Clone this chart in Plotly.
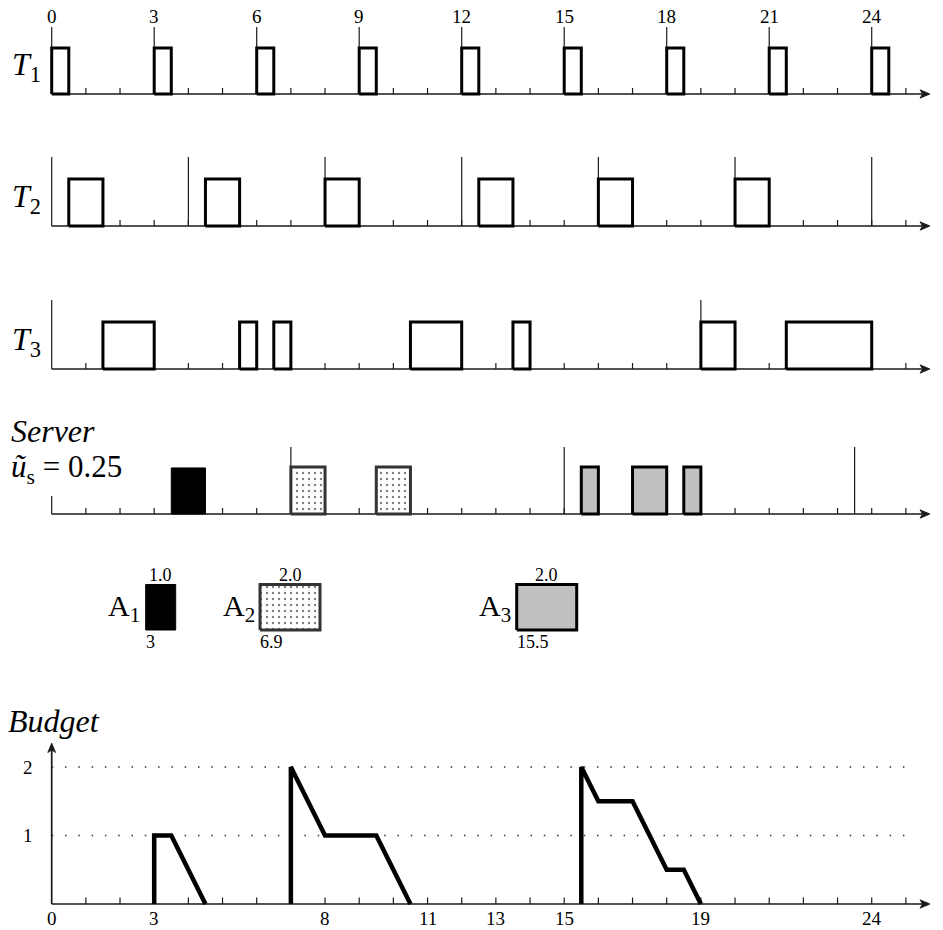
import plotly.graph_objects as go

# ------------------------------------------------------------------ data
T1_RELEASES = [0, 3, 6, 9, 12, 15, 18, 21, 24]
T1_RUN_START = [0, 3, 6, 9, 12, 15, 18, 21, 24]
T1_RUN_END = [0.5, 3.5, 6.5, 9.5, 12.5, 15.5, 18.5, 21.5, 24.5]

T2_RELEASES = [0, 4, 8, 12, 16, 20, 24]
T2_RUN_START = [0.5, 4.5, 8, 12.5, 16, 20]
T2_RUN_END = [1.5, 5.5, 9, 13.5, 17, 21]

T3_RELEASES = [0, 19]
T3_RUN_START = [1.5, 5.5, 6.5, 10.5, 13.5, 19, 21.5]
T3_RUN_END = [3, 6, 7, 12, 14, 20, 24]

SERVER_REPLENISH = [7, 15, 23.5]
SERVER_TICK_LABELS = [0, 7, 15, 23.5]
SERVER_UTIL = 0.25

A1_RUN_START = [3.5]
A1_RUN_END = [4.5]
A2_RUN_START = [7, 9.5]
A2_RUN_END = [8, 10.5]
A3_RUN_START = [15.5, 17, 18.5]
A3_RUN_END = [16, 18, 19]

APERIODIC_IDS = [1, 2, 3]
APERIODIC_ARRIVALS = [3, 6.9, 15.5]
APERIODIC_EXEC = [1.0, 2.0, 2.0]

BUDGET_TIME = [3, 3, 3.5, 4.5, None, 7, 7, 8, 9.5, 10.5, None,
               15.5, 15.5, 16, 17, 18, 18.5, 19]
BUDGET_VALUE = [0, 1, 1, 0, None, 0, 2, 1, 1, 0, None,
                0, 2, 1.5, 1.5, 0.5, 0.5, 0]
BUDGET_TICK_LABELS = [0, 3, 8, 11, 13, 15, 19, 24]
BUDGET_LEVELS = [1, 2]

TIME_TICKS = list(range(1, 26))

# ------------------------------------------------------------------ layout constants
OFF = 0                                # page margin removed by post_script
W, H = 943 - OFF, 930 - OFF
X0_PX, X_UNIT = 51.7, 34.167          # screen pixel of t=0, pixels per time unit
FONT = "Liberation Serif, Times New Roman, Times, serif"
AXIS_C = "#1a1a1a"

# row geometry in screen pixels: baseline, pixels per unit, domain top/bottom
ROWS = {
    "t1": dict(ax="y", base=94, unit=46, top=12, bottom=112),
    "t2": dict(ax="y2", base=226, unit=47, top=140, bottom=242),
    "t3": dict(ax="y3", base=369, unit=47, top=285, bottom=385),
    "srv": dict(ax="y4", base=514, unit=47, top=440, bottom=528),
    "leg": dict(ax="y5", base=630, unit=45.5, top=560, bottom=650),
    "bud": dict(ax="y6", base=904, unit=68.5, top=730, bottom=920),
}
LEG_BOX_LEFT = [2.751, 6.097, 13.61]   # drawing positions of the A-boxes
LEG_SCALE = 0.878                      # time units per execution unit in legend

fig = go.Figure()


def yv(row, py):
    r = ROWS[row]
    return (r["base"] - py) / r["unit"]


def tx(px):
    return (px - X0_PX) / X_UNIT


def lines(xs, ys, row, width=1.0, color=AXIS_C, dash=None):
    fig.add_trace(go.Scatter(x=xs, y=ys, mode="lines", xaxis="x",
                             yaxis=ROWS[row]["ax"],
                             line=dict(width=width, color=color, dash=dash),
                             hoverinfo="skip", showlegend=False))


def vsegs(ts, y0, y1):
    xs, ys = [], []
    for t in ts:
        xs += [t, t, None]
        ys += [y0, y1, None]
    return xs, ys


def rects(starts, ends, h=1.0):
    xs, ys = [], []
    for s, e in zip(starts, ends):
        xs += [s, e, e, s, s, None]
        ys += [0, 0, h, h, 0, None]
    return xs, ys


def boxes(starts, ends, row, fill="white", line_c="black", lw=3, pattern=None, h=1.0):
    xs, ys = rects(starts, ends, h)
    kw = {}
    if pattern:
        kw["fillpattern"] = pattern
    fig.add_trace(go.Scatter(x=xs, y=ys, mode="lines", fill="toself",
                             fillcolor=fill, xaxis="x", yaxis=ROWS[row]["ax"],
                             line=dict(width=lw, color=line_c),
                             hoverinfo="skip", showlegend=False, **kw))


def h_axis(row):
    unit = ROWS[row]["unit"]
    tip = tx(930)
    back = tx(920)
    notch = tx(922.5)
    half = 4.2 / unit
    lines([0, notch], [0, 0], row, 1.7)
    fig.add_trace(go.Scatter(x=[tip, back, notch, back, tip],
                             y=[0, half, 0, -half, 0], mode="lines",
                             fill="toself", fillcolor=AXIS_C,
                             line=dict(width=0.8, color=AXIS_C),
                             xaxis="x", yaxis=ROWS[row]["ax"],
                             hoverinfo="skip", showlegend=False))


def ticks(row, px=6):
    xs, ys = vsegs(TIME_TICKS, 0, px / ROWS[row]["unit"])
    lines(xs, ys, row, 1.2)


def text(x, y, s, size, xref="paper", yref="paper", xa="center", ya="middle"):
    fig.add_annotation(x=x, y=y, xref=xref, yref=yref, text=s, showarrow=False,
                       xanchor=xa, yanchor=ya,
                       font=dict(family=FONT, size=size, color="black"))


# ------------------------------------------------------------------ T1
ticks("t1")
xs, ys = vsegs(T1_RELEASES, 0, yv("t1", 27))
lines(xs, ys, "t1", 1.2)
h_axis("t1")
boxes(T1_RUN_START, T1_RUN_END, "t1")
for r in T1_RELEASES:
    text(r, yv("t1", 16), f"{r}", 19, xref="x", yref="y")

# ------------------------------------------------------------------ T2
ticks("t2")
xs, ys = vsegs(T2_RELEASES, 0, yv("t2", 157))
lines(xs, ys, "t2", 1.2)
h_axis("t2")
boxes(T2_RUN_START, T2_RUN_END, "t2")

# ------------------------------------------------------------------ T3
ticks("t3")
xs, ys = vsegs(T3_RELEASES, 0, yv("t3", 300))
lines(xs, ys, "t3", 1.2)
h_axis("t3")
boxes(T3_RUN_START, T3_RUN_END, "t3")

# ------------------------------------------------------------------ Server
ticks("srv")
xs, ys = vsegs(SERVER_REPLENISH, 0, yv("srv", 447))
lines(xs, ys, "srv", 1.2)
xs, ys = vsegs([0], 0, yv("srv", 496))
lines(xs, ys, "srv", 1.2)
h_axis("srv")
DOTS = dict(shape=".", bgcolor="white", fgcolor="black", size=6, solidity=0.12)
boxes(A1_RUN_START, A1_RUN_END, "srv", fill="black", line_c="black", lw=1, h=0.98)
boxes(A2_RUN_START, A2_RUN_END, "srv", fill="white", line_c="#333333", lw=3, pattern=DOTS)
boxes(A3_RUN_START, A3_RUN_END, "srv", fill="#c0c0c0", line_c="black", lw=3)
for v in SERVER_TICK_LABELS:
    text(v, yv("srv", 531), f"{v:g}", 19, xref="x", yref="y4")

# ------------------------------------------------------------------ aperiodic legend
leg_styles = [
    dict(fill="black", line_c="black", lw=1),
    dict(fill="white", line_c="#333333", lw=3, pattern=DOTS),
    dict(fill="#c0c0c0", line_c="black", lw=3),
]
for i, (aid, arr, ex) in enumerate(zip(APERIODIC_IDS, APERIODIC_ARRIVALS, APERIODIC_EXEC)):
    left = LEG_BOX_LEFT[i]
    right = left + ex * LEG_SCALE
    boxes([left], [right], "leg", **leg_styles[i])
    text((left + right) / 2, yv("leg", 575), f"{ex:.1f}", 18, xref="x", yref="y5")
    text(left - 0.05, yv("leg", 642), f"{arr:g}", 18, xref="x", yref="y5", xa="left")
    text(left - 0.1, yv("leg", 608), f"A<sub>{aid}</sub>", 30, xref="x", yref="y5", xa="right")

# ------------------------------------------------------------------ Budget
ticks("bud", 6.5)
for lv in BUDGET_LEVELS:
    lines([0, 25.05], [lv, lv], "bud", 1.5, "#333333", dash="1.5px,11.8px")
    text(tx(28), lv, f"{lv}", 19, xref="x", yref="y6")
h_axis("bud")
# vertical axis with arrow
v_tip = yv("bud", 743)
v_back = yv("bud", 752.5)
v_notch = yv("bud", 750)
lines([0, 0], [0, v_notch], "bud", 1.7)
hw = 3.9 / X_UNIT
fig.add_trace(go.Scatter(x=[0, hw, 0, -hw, 0], y=[v_tip, v_back, v_notch, v_back, v_tip],
                         mode="lines", fill="toself", fillcolor=AXIS_C,
                         line=dict(width=0.8, color=AXIS_C), xaxis="x", yaxis="y6",
                         hoverinfo="skip", showlegend=False))
fig.add_trace(go.Scatter(x=BUDGET_TIME, y=BUDGET_VALUE, mode="lines", xaxis="x", yaxis="y6",
                         line=dict(width=4.5, color="black"), connectgaps=False,
                         hoverinfo="skip", showlegend=False))
for v in BUDGET_TICK_LABELS:
    text(v, yv("bud", 918), f"{v}", 19, xref="x", yref="y6")


# ------------------------------------------------------------------ row titles
def P(px, py):
    return (px - OFF) / W, 1 - (py - OFF) / H


for lab, py in [("1", 67), ("2", 198), ("3", 341)]:
    x, y = P(10, py)
    text(x, y, f"<i>T</i><sub>{lab}</sub>", 32, xa="left")
x, y = P(9, 431)
text(x, y, "<i>Server</i>", 32, xa="left")
x, y = P(9, 469)
text(x, y, f"<i>ũ</i><sub>s</sub> = {SERVER_UTIL}", 31, xa="left")
x, y = P(6, 721)
text(x, y, "<i>Budget</i>", 32, xa="left")

# ------------------------------------------------------------------ axes
layout_axes = {}
names = ["yaxis", "yaxis2", "yaxis3", "yaxis4", "yaxis5", "yaxis6"]
for name, key in zip(names, ["t1", "t2", "t3", "srv", "leg", "bud"]):
    r = ROWS[key]
    layout_axes[name] = dict(
        domain=[1 - (r["bottom"] - OFF) / H, 1 - (r["top"] - OFF) / H],
        range=[(r["base"] - r["bottom"]) / r["unit"], (r["base"] - r["top"]) / r["unit"]],
        visible=False, fixedrange=True, anchor="x",
    )

fig.update_layout(
    width=W, height=H, autosize=False,
    margin=dict(l=0, r=0, t=0, b=0, pad=0),
    paper_bgcolor="white", plot_bgcolor="white",
    xaxis=dict(domain=[0, 1], range=[tx(OFF), tx(OFF + W)], visible=False, fixedrange=True),
    showlegend=False,
    **layout_axes,
)

fig.write_html("out.html",
               config={"displayModeBar": False, "staticPlot": True},
               post_script="document.body.style.margin='0px';"
                           "document.body.style.overflow='hidden';")
